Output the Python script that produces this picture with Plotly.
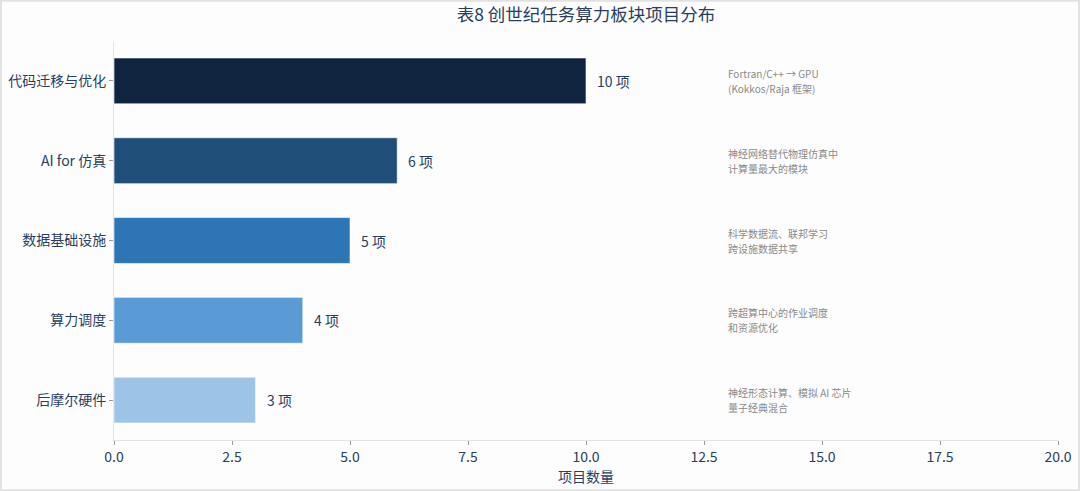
import plotly.graph_objects as go

categories = ["代码迁移与优化", "AI for 仿真", "数据基础设施", "算力调度", "后摩尔硬件"]
counts = [10, 6, 5, 4, 3]
value_labels = ["10 项", "6 项", "5 项", "4 项", "3 项"]
notes = [
    ["Fortran/C++ → GPU", "(Kokkos/Raja 框架)"],
    ["神经网络替代物理仿真中", "计算量最大的模块"],
    ["科学数据流、联邦学习", "跨设施数据共享"],
    ["跨超算中心的作业调度", "和资源优化"],
    ["神经形态计算、模拟 AI 芯片", "量子经典混合"],
]
colors = ["#10243f", "#1f4e79", "#2e75b6", "#5b9bd5", "#9dc3e6"]
note_x = 12.96
x_ticks = [0, 2.5, 5, 7.5, 10, 12.5, 15, 17.5, 20]

font_family = "Noto Sans CJK SC, Noto Sans, sans-serif"
text_color = "#2a3f5f"

fig = go.Figure()
fig.add_trace(go.Bar(
    y=categories,
    x=counts,
    orientation="h",
    marker=dict(color=colors, line=dict(color="rgba(255,255,255,0.6)", width=1)),
    width=0.575,
    hoverinfo="skip",
))

# value labels to the right of each bar
for cat, val, lab in zip(categories, counts, value_labels):
    fig.add_annotation(
        x=val, y=cat, xref="x", yref="y",
        text=lab, showarrow=False,
        xanchor="left", yanchor="middle", xshift=9,
        font=dict(size=14, color=text_color, family=font_family),
    )

# two-line notes on the right
for cat, lines in zip(categories, notes):
    n = len(lines)
    for i, line in enumerate(lines):
        fig.add_annotation(
            x=note_x, y=cat, xref="x", yref="y",
            text=line, showarrow=False,
            xanchor="left", yanchor="middle", align="left",
            yshift=(n - 1) / 2 * 15 - i * 15,
            font=dict(size=10, color="#8a8a8a", family=font_family),
        )

W, H = 1080, 491
ml, mr, mt, mb = 114, 22, 41, 51
pw, ph = W - ml - mr, H - mt - mb
fig.add_shape(
    type="rect", xref="paper", yref="paper",
    x0=-ml / pw + 0.001, x1=1 + mr / pw - 0.001,
    y0=-mb / ph + 0.002, y1=1 + mt / ph - 0.002,
    line=dict(color="#e2e2e2", width=2), layer="below",
)

fig.update_layout(
    width=W, height=H,
    margin=dict(l=ml, r=mr, t=mt, b=mb, autoexpand=False),
    paper_bgcolor="#fdfdfd",
    plot_bgcolor="#fdfdfd",
    font=dict(family=font_family, color=text_color),
    title=dict(
        text="表8 创世纪任务算力板块项目分布",
        x=(ml + pw / 2) / W, xanchor="center",
        y=1 - 15 / H, yanchor="middle",
        font=dict(size=17.5, color=text_color, family=font_family),
    ),
    showlegend=False,
)
fig.update_xaxes(
    range=[0, 20],
    tickvals=x_ticks,
    ticktext=[f"{v:.1f}" for v in x_ticks],
    showgrid=False, zeroline=False,
    showline=True, linecolor="#e4e4e4", linewidth=1,
    ticks="outside", tickcolor="#9a9a9a", ticklen=4,
    tickfont=dict(size=14, color=text_color),
    title=dict(text="项目数量", font=dict(size=14, color=text_color), standoff=4),
    automargin=False,
)
fig.update_yaxes(
    categoryorder="array", categoryarray=categories[::-1],
    range=[-0.5, 4.5],
    showgrid=False, zeroline=False,
    showline=True, linecolor="#e4e4e4", linewidth=1,
    ticks="outside", tickcolor="#9a9a9a", ticklen=4,
    tickfont=dict(size=14, color=text_color),
    automargin=False,
)

fig.write_html(
    "out.html",
    config={"displayModeBar": False},
    post_script="document.body.style.margin='0px';document.body.style.overflow='hidden';",
)
